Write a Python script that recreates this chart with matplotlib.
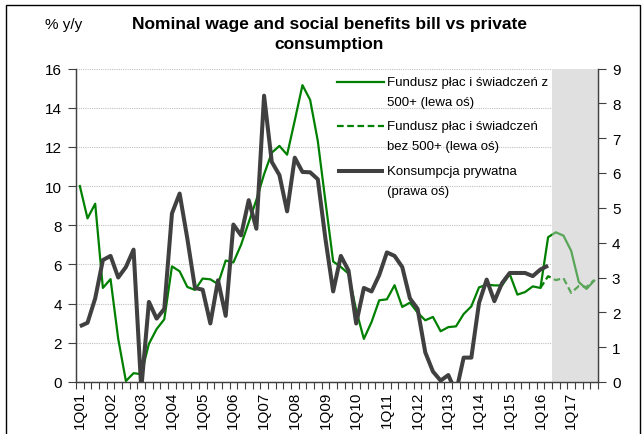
import numpy as np
import matplotlib
matplotlib.use("Agg")
import matplotlib.pyplot as plt
from matplotlib.lines import Line2D
from matplotlib.patches import Rectangle

plt.rcParams['font.family'] = ['Liberation Sans', 'DejaVu Sans']

# quarterly data 1Q01 - 4Q17
years = list(range(1, 18))
quarter_labels = ['1Q%02d' % y for y in years]

# wage and social benefits bill incl. 500+ (% y/y, left axis)
wages_500 = [10.0, 8.35, 9.1, 4.8, 5.25, 2.2, 0.05, 0.45,
             0.4, 1.95, 2.7, 3.2, 5.9, 5.65, 4.85, 4.7,
             5.28, 5.24, 5.0, 6.2, 6.1, 7.0, 8.15, 9.3,
             10.6, 11.7, 12.05, 11.6, 13.35, 15.15, 14.4, 12.3,
             9.2, 6.15, 5.87, 5.53, 3.66, 2.2, 3.06, 4.17,
             4.22, 4.94, 3.83, 4.05, 3.54, 3.15, 3.32, 2.59,
             2.8, 2.84, 3.47, 3.86, 4.83, 4.97, 4.93, 4.93,
             5.51, 4.46, 4.59, 4.88, 4.8, 7.39, 7.64, 7.47,
             6.7, 5.1, 4.75, 5.17]

# same without 500+ (only from 1Q16)
wages_no500 = [np.nan] * 60 + [4.8, 5.4, 5.2, 5.3, 4.55, 4.9, 4.85, 5.2]

# private consumption (% y/y, right axis), up to 2Q16
consumption = [1.6, 1.7, 2.4, 3.5, 3.62, 3.0, 3.3, 3.8,
               -0.2, 2.3, 1.82, 2.1, 4.84, 5.41, 4.12, 2.7,
               2.65, 1.68, 2.92, 1.9, 4.52, 4.21, 5.22, 4.4,
               8.22, 6.32, 5.94, 4.9, 6.44, 6.03, 6.02, 5.82,
               4.1, 2.6, 3.62, 3.2, 1.68, 2.7, 2.6, 3.07,
               3.72, 3.62, 3.3, 2.4, 2.1, 0.85, 0.3, 0.04,
               0.2, -0.3, 0.7, 0.7, 2.27, 2.94, 2.32, 2.84,
               3.13, 3.13, 3.13, 3.04, 3.23, 3.34]

forecast_start = 62  # 3Q16

green = '#008000'
dark = '#404040'
shade = '#e0e0e0'
W, H = 643, 435

fig = plt.figure(figsize=(W / 100, H / 100), dpi=100)
ax = fig.add_axes([76 / W, 1 - 383 / H, (598 - 76) / W, (383 - 69.5) / H])
ax2 = ax.twinx()

x = np.arange(len(wages_500))
xc = np.arange(len(consumption))

ax.set_axisbelow(True)
ax.yaxis.grid(True, color='#c0c0c0', linestyle=(0, (1, 1)), linewidth=0.8)
ax.axvspan(forecast_start - 0.5, len(x) - 0.5, color=shade, lw=0, zorder=1)

ax.plot(x, wages_500, color=green, lw=1.6, zorder=2)
ax.plot(x, wages_no500, color=green, lw=1.6, linestyle=(0, (3, 1.6)), zorder=2)
# lighten the forecast part of the lines
ax.axvspan(forecast_start - 0.5, len(x) - 0.5, color=shade, alpha=0.4, lw=0, zorder=3)

ax2.plot(xc, consumption, color=dark, lw=2.9, solid_capstyle='butt')

ax.set_xlim(-0.5, len(x) - 0.5)
ax.set_ylim(0, 16)
ax2.set_ylim(0, 9)
ax.set_yticks(range(0, 17, 2))
ax2.set_yticks(range(0, 10))

# tick marks at quarter boundaries, labels every first quarter
ax.set_xticks(np.arange(-0.5, len(x), 1))
ax.set_xticklabels([])
ax.set_xticks(np.arange(0, len(x), 4), minor=True)
ax.set_xticklabels(quarter_labels, minor=True, rotation=90)
ax.tick_params(axis='x', which='major', length=5, width=0.8, color=dark, direction='out')
ax.tick_params(axis='x', which='minor', length=0, pad=6, labelsize=11)
ax.tick_params(axis='y', length=6, width=0.8, color=dark, labelsize=11, pad=4)
ax2.tick_params(axis='y', length=6, width=0.8, color=dark, labelsize=11, pad=4)

for a in (ax, ax2):
    a.spines['top'].set_visible(False)
    for s in ('left', 'right', 'bottom'):
        a.spines[s].set_color(dark)
        a.spines[s].set_linewidth(0.9)

# title and axis unit
fig.text(329 / W, 1 - 25 / H, 'Nominal wage and social benefits bill vs private',
         ha='center', va='center', fontsize=12.5, fontweight='bold')
fig.text(329 / W, 1 - 45 / H, 'consumption',
         ha='center', va='center', fontsize=12.5, fontweight='bold')
fig.text(64 / W, 1 - 25 / H, '% y/y', ha='center', va='center', fontsize=11)

# legend
entries = [
    (dict(color=green, lw=1.6), 'Fundusz płac i świadczeń z', '500+ (lewa oś)', 83),
    (dict(color=green, lw=1.6, linestyle=(0, (3, 1.6))), 'Fundusz płac i świadczeń', 'bez 500+ (lewa oś)', 127),
    (dict(color=dark, lw=2.9, solid_capstyle='butt'), 'Konsumpcja prywatna', '(prawa oś)', 172),
]
for style, line1, line2, yy in entries:
    fig.add_artist(Line2D([337 / W, 384 / W], [1 - yy / H] * 2, **style))
    fig.text(387 / W, 1 - yy / H, line1, ha='left', va='center', fontsize=9.5)
    fig.text(387 / W, 1 - (yy + 20) / H, line2, ha='left', va='center', fontsize=9.5)

# outer frame
fig.add_artist(Rectangle((6 / W, -0.1), (640 - 6) / W, (H - 6) / H + 0.1,
                         transform=fig.transFigure, fill=False, ec='black', lw=1))

fig.savefig('out.png', dpi=100)
